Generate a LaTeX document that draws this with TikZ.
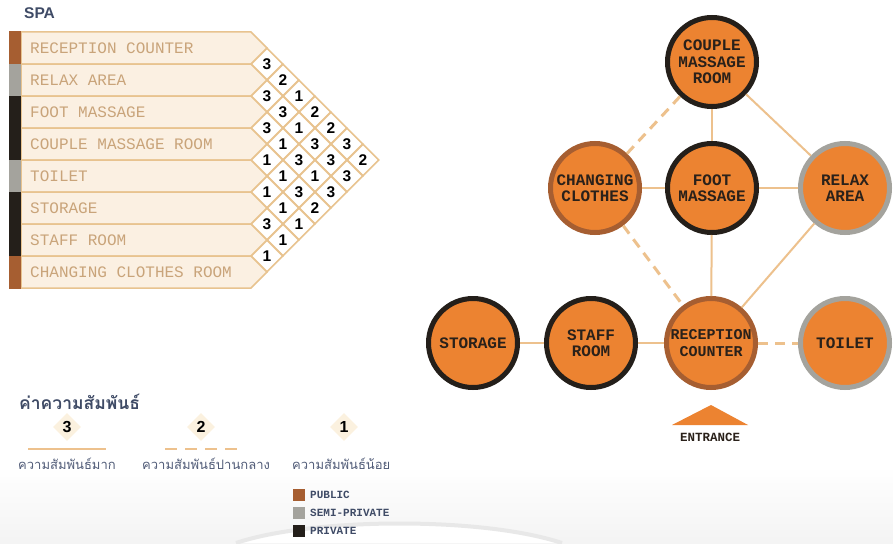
\documentclass[tikz,border=0pt]{standalone}
\usepackage{fontspec}
\setmainfont{Liberation Sans}
\newfontfamily\monof{Liberation Mono}
\newfontfamily\thaif[Script=Thai]{Loma}
\usetikzlibrary{shapes.geometric}
\definecolor{rowfill}{HTML}{FBF0E2}
\definecolor{tanline}{HTML}{E8C38F}
\definecolor{rowtext}{HTML}{C9A47A}
\definecolor{pubC}{HTML}{A65E31}
\definecolor{semiC}{HTML}{A4A39D}
\definecolor{privC}{HTML}{241F1A}
\definecolor{orangeF}{HTML}{EC8331}
\definecolor{connC}{HTML}{EDC18D}
\definecolor{slate}{HTML}{3F4B66}
\definecolor{thaitext}{HTML}{515C78}
\definecolor{bubtext}{HTML}{2A211A}
\definecolor{legdia}{HTML}{FBF1DF}
\begin{document}
\begin{tikzpicture}[x=1pt,y=-1pt,
  rowlabel/.style={anchor=west,inner sep=0pt,text=rowtext,font=\monof\fontsize{16}{16}\selectfont},
  cell/.style={diamond,draw=tanline,fill=white,line width=1.5pt,minimum width=32pt,minimum height=32pt,inner sep=0pt,font=\bfseries\fontsize{15.5}{15.5}\selectfont,text=black},
  bubble/.style={circle,fill=orangeF,line width=5pt,minimum size=89pt,inner sep=0pt,align=center,text=bubtext,font=\monof\bfseries\fontsize{16}{16.5}\selectfont},
  pubb/.style={bubble,draw=pubC},
  semib/.style={bubble,draw=semiC},
  privb/.style={bubble,draw=privC},
  conn/.style={draw=connC,line width=2pt},
  dconn/.style={draw=connC,line width=3pt,dash pattern=on 10pt off 7pt},
  thailabel/.style={anchor=west,inner sep=0pt,text=thaitext,font=\thaif\fontsize{13}{13}\selectfont},
  keynum/.style={diamond,fill=legdia,minimum width=28pt,minimum height=28pt,inner sep=0pt,text=black,font=\bfseries\fontsize{16}{16}\selectfont},
  keytext/.style={anchor=west,inner sep=0pt,text=slate,font=\monof\bfseries\fontsize{11}{11}\selectfont}
]
\useasboundingbox (0,0) rectangle (893,543);
\fill[white] (0,0) rectangle (893,543);
% faint lower background
\shade[top color=white,bottom color=gray!9] (0,466) rectangle (893,543);
\fill[white] (236,543) .. controls (310,518) and (480,516) .. (562,543) -- cycle;
\draw[gray!18,line width=4pt] (236,543) .. controls (310,518) and (480,516) .. (562,543);

% title
\node[anchor=west,inner sep=0pt,text=slate,font=\bfseries\fontsize{15.5}{15.5}\selectfont] (spa) at (24,13) {SPA};

% rows
\foreach \i in {1,...,8} {
  \filldraw[fill=rowfill,draw=tanline,line width=1.5pt]
    (21,32*\i) -- (251,32*\i) -- (267,32*\i+16) -- (251,32*\i+32) -- (21,32*\i+32) -- cycle;
}
% colour bars
\fill[pubC] (9,31) rectangle (21,64);
\fill[semiC] (9,64) rectangle (21,96);
\fill[privC] (9,96) rectangle (21,160);
\fill[semiC] (9,160) rectangle (21,192);
\fill[privC] (9,192) rectangle (21,256);
\fill[pubC] (9,256) rectangle (21,289);

\node[rowlabel] (r1) at (30,48) {RECEPTION COUNTER};
\node[rowlabel] (r2) at (30,80) {RELAX AREA};
\node[rowlabel] (r3) at (30,112) {FOOT MASSAGE};
\node[rowlabel] (r4) at (30,144) {COUPLE MASSAGE ROOM};
\node[rowlabel] (r5) at (30,176) {TOILET};
\node[rowlabel] (r6) at (30,208) {STORAGE};
\node[rowlabel] (r7) at (30,240) {STAFF ROOM};
\node[rowlabel] (r8) at (30,272) {CHANGING CLOTHES ROOM};

% matrix cells
\foreach \i/\j/\v in {1/2/3,1/3/2,1/4/1,1/5/2,1/6/2,1/7/3,1/8/2,
                      2/3/3,2/4/3,2/5/1,2/6/3,2/7/3,2/8/3,
                      3/4/3,3/5/1,3/6/3,3/7/1,3/8/3,
                      4/5/1,4/6/1,4/7/3,4/8/2,
                      5/6/1,5/7/1,5/8/1,
                      6/7/3,6/8/1,
                      7/8/1} {
  \node[cell] (d\i\j) at ({251+16*(\j-\i)},{16*(\i+\j)+16}) {\v};
}

% bubbles
\node[privb] (cm) at (712,62) {COUPLE\\MASSAGE\\ROOM};
\node[pubb] (cc) at (595,188) {CHANGING\\CLOTHES};
\node[privb] (fm) at (712,188) {FOOT\\MASSAGE};
\node[semib] (ra) at (845,188) {RELAX\\AREA};
\node[privb] (st) at (473,343) {STORAGE};
\node[privb] (sr) at (591,343) {STAFF\\ROOM};
\node[pubb,font=\monof\bfseries\fontsize{15}{16.5}\selectfont] (rc) at (711,343) {RECEPTION\\COUNTER};
\node[semib] (to) at (845,343) {TOILET};

% connectors
\draw[conn] (cm) -- (fm);
\draw[conn] (cm) -- (ra);
\draw[dconn] (cm) -- (cc);
\draw[conn] (cc) -- (fm);
\draw[conn] (fm) -- (ra);
\draw[dconn] (cc) -- (rc);
\draw[conn] (fm) -- (rc);
\draw[conn] (ra) -- (rc);
\draw[conn] (st) -- (sr);
\draw[conn] (sr) -- (rc);
\draw[dconn] (rc) -- (to);

% entrance
\fill[orangeF] (672,425) -- (711,405) -- (748,425) -- cycle;
\node[inner sep=0pt,text=bubtext,font=\monof\bfseries\fontsize{12.5}{12.5}\selectfont] (ent) at (710,437) {ENTRANCE};

% legend
\node[anchor=west,inner sep=0pt,text=slate,font=\thaif\bfseries\fontsize{17.5}{17.5}\selectfont] (kt) at (19,402) {ค่าความสัมพันธ์};
\node[keynum] (k3) at (67,427) {3};
\node[keynum] (k2) at (201,427) {2};
\node[keynum] (k1) at (344,427) {1};
\coordinate (l3a) at (28,449);
\coordinate (l3b) at (106,449);
\coordinate (l2a) at (165,449);
\coordinate (l2b) at (238,449);
\draw[conn] (l3a) -- (l3b);
\draw[draw=connC,line width=2.5pt,dash pattern=on 11.5pt off 8.5pt] (l2a) -- (l2b);
\node[thailabel] (t3) at (18,464) {ความสัมพันธ์มาก};
\node[thailabel] (t2) at (142,464) {ความสัมพันธ์ปานกลาง};
\node[thailabel] (t1) at (292,464) {ความสัมพันธ์น้อย};

\fill[pubC] (293,489) rectangle (305,501);
\fill[semiC] (293,507) rectangle (305,519);
\fill[privC] (293,525) rectangle (305,537);
\node[keytext] (kp) at (310,495) {PUBLIC};
\node[keytext] (ks) at (310,513) {SEMI-PRIVATE};
\node[keytext] (kv) at (310,531) {PRIVATE};
\end{tikzpicture}
\end{document}
